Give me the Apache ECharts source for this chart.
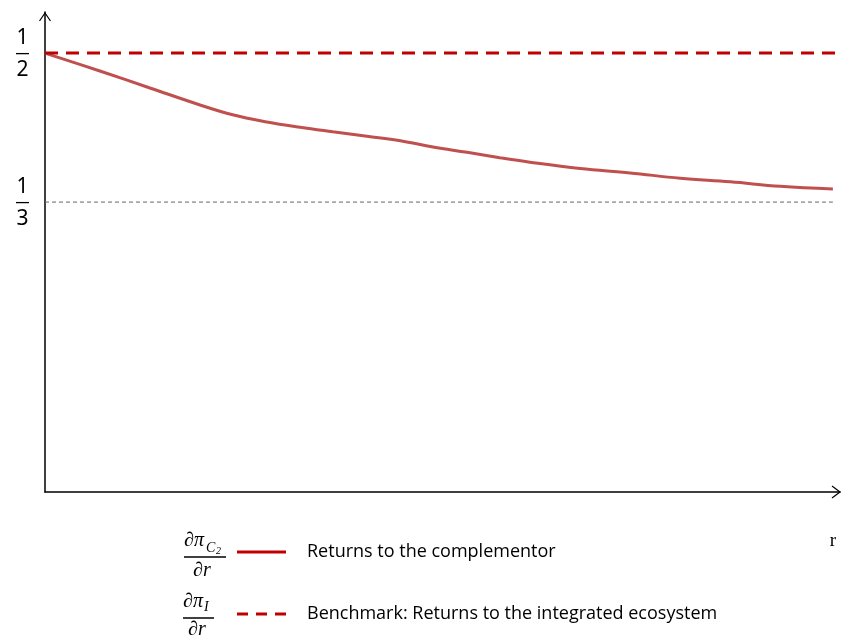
<!DOCTYPE html>
<html>
<head>
<meta charset="utf-8">
<script src="https://cdn.jsdelivr.net/npm/echarts@6/dist/echarts.min.js"></script>
<style>
  html, body { margin: 0; padding: 0; background: #fff; }
  #main { width: 846px; height: 640px; }
</style>
</head>
<body>
<div id="main"></div>
<script>
  // returns to the complementor (x in 0..1 of the r axis)
  const rValues = [0, 0.069, 0.132, 0.195, 0.236, 0.279, 0.321, 0.362, 0.405, 0.447,
                   0.488, 0.531, 0.572, 0.610, 0.673, 0.736, 0.799, 0.862, 0.925, 0.991];
  const complementorValues = [0.500, 0.480, 0.461, 0.442, 0.431, 0.423, 0.417, 0.412, 0.407, 0.402,
                              0.395, 0.389, 0.383, 0.378, 0.371, 0.366, 0.360, 0.356, 0.351, 0.348];
  // benchmark: integrated ecosystem
  const benchmarkR = [0, 1.004];
  const benchmarkValue = 1 / 2;
  // lower reference level
  const lowerR = [0, 0.991];
  const lowerValue = 1 / 3;
  // y tick labels as fractions
  const tickValues = [1 / 2, 1 / 3];
  const tickLabels = [['1', '2'], ['1', '3']];
  const legendNames = ['Returns to the complementor', 'Benchmark: Returns to the integrated ecosystem'];
  const axisName = 'r';

  const yMin = 0.009, yMax = 0.546;
  const mathFont = '"Liberation Serif", "DejaVu Serif", serif';
  const textFont = '"Open Sans", "Noto Sans", sans-serif';

  let chart = echarts.init(document.getElementById('main'));
  chart.setOption({
    animation: false,
    grid: { left: 45, right: 6, top: 12, bottom: 148 },
    xAxis: {
      type: 'value', min: 0, max: 1,
      axisLine: { onZero: false, lineStyle: { color: '#000', width: 1.5 } },
      axisTick: { show: false }, axisLabel: { show: false }, splitLine: { show: false }
    },
    yAxis: {
      type: 'value', min: yMin, max: yMax,
      axisLine: { show: true, lineStyle: { color: '#000', width: 1.5 } },
      axisTick: { show: false }, axisLabel: { show: false }, splitLine: { show: false }
    },
    series: [
      {
        name: 'lower',
        type: 'line',
        data: lowerR.map(r => [r, lowerValue]),
        showSymbol: false,
        lineStyle: { color: '#666', width: 1, type: [4, 3] },
        z: 1
      },
      {
        name: legendNames[1],
        type: 'line',
        clip: false,
        data: benchmarkR.map(r => [r, benchmarkValue]),
        showSymbol: false,
        lineStyle: { color: '#c00000', width: 3, type: [13, 8] },
        z: 3
      },
      {
        name: legendNames[0],
        type: 'line',
        smooth: 0.4,
        data: rValues.map((r, i) => [r, complementorValues[i]]),
        showSymbol: false,
        lineStyle: { color: '#c0504d', width: 3 },
        z: 2
      }
    ]
  });

  // decorations placed with the chart's own scale
  const px = (x, y) => chart.convertToPixel({ gridIndex: 0 }, [x, y]);
  const origin = px(0, yMin);
  const yEnd = px(0, yMax);
  const xEnd = px(1, yMin);
  let g = [];

  // open arrow heads
  g.push({ type: 'polyline', shape: { points: [[yEnd[0] - 5.5, yEnd[1] + 9], [yEnd[0], yEnd[1] + 1], [yEnd[0] + 5.5, yEnd[1] + 9]] },
           style: { stroke: '#000', lineWidth: 1.2, fill: null } });
  g.push({ type: 'polyline', shape: { points: [[xEnd[0] - 8, xEnd[1] - 6], [xEnd[0], xEnd[1]], [xEnd[0] - 8, xEnd[1] + 6]] },
           style: { stroke: '#000', lineWidth: 1.2, fill: null } });

  // fraction tick labels
  tickValues.forEach((v, i) => {
    const p = px(0, v);
    const cx = 22.5;
    g.push({ type: 'text', x: cx, y: p[1] - 15, style: { text: tickLabels[i][0], font: '21px "Noto Sans"', fill: '#000', align: 'center', verticalAlign: 'middle' } });
    g.push({ type: 'line', shape: { x1: 16, y1: p[1] + 0.5, x2: 29, y2: p[1] + 0.5 }, style: { stroke: '#000', lineWidth: 1.3 } });
    g.push({ type: 'text', x: cx, y: p[1] + 17, style: { text: tickLabels[i][1], font: '21px "Noto Sans"', fill: '#000', align: 'center', verticalAlign: 'middle' } });
  });

  // axis name
  g.push({ type: 'text', x: xEnd[0] - 7, y: origin[1] + 49, style: { text: axisName, font: '19px "Liberation Serif", serif', fill: '#000', align: 'center', verticalAlign: 'middle' } });

  // legend: fraction + line sample + label
  const mathText = (x, y, t, size) => ({ type: 'text', x: x, y: y,
    style: { text: t, font: 'italic ' + size + 'px ' + mathFont, fill: '#000', align: 'left', verticalAlign: 'middle' } });

  // item 1
  g.push(mathText(184, 541, '∂π', 20));
  g.push(mathText(206, 548, 'C', 14));
  g.push(mathText(216, 551, '2', 10));
  g.push({ type: 'line', shape: { x1: 184, y1: 557, x2: 226, y2: 557 }, style: { stroke: '#000', lineWidth: 1.5 } });
  g.push(mathText(193, 571, '∂r', 20));
  g.push({ type: 'line', shape: { x1: 237, y1: 552, x2: 286, y2: 552 }, style: { stroke: '#c00000', lineWidth: 3 } });
  g.push({ type: 'text', x: 307, y: 552, style: { text: legendNames[0], font: '18px ' + textFont, fill: '#000', verticalAlign: 'middle' } });

  // item 2
  g.push(mathText(183, 602, '∂π', 20));
  g.push(mathText(204, 607, 'I', 14));
  g.push({ type: 'line', shape: { x1: 183, y1: 618, x2: 214, y2: 618 }, style: { stroke: '#000', lineWidth: 1.5 } });
  g.push(mathText(188, 630, '∂r', 20));
  g.push({ type: 'line', shape: { x1: 237, y1: 614, x2: 286, y2: 614 }, style: { stroke: '#c00000', lineWidth: 3, lineDash: [11, 8] } });
  g.push({ type: 'text', x: 307, y: 614, style: { text: legendNames[1], font: '18px ' + textFont, fill: '#000', verticalAlign: 'middle' } });

  chart.setOption({ graphic: g });
</script>
</body>
</html>
